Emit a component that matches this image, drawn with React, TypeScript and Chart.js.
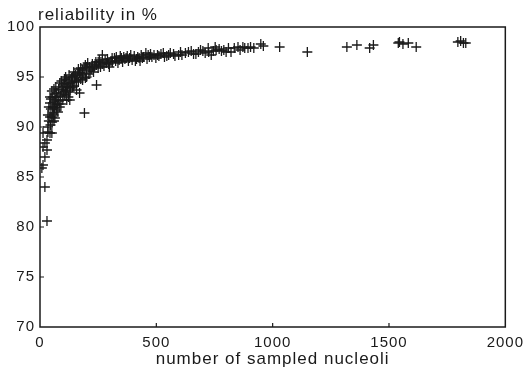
import React, { useEffect, useRef } from "react";
import { Chart, registerables } from "chart.js";

Chart.register(...registerables);

const xTicks = [0, 500, 1000, 1500, 2000];
const yTicks = [70, 75, 80, 85, 90, 95, 100];
const yTitle = "reliability in %";
const xTitle = "number of sampled nucleoli";

// sampled nucleoli counts
const xValues = [
  13, 21, 30, 13, 21, 30, 13, 34, 51, 43, 34, 21, 30, 8,
  34, 43, 51, 64, 55, 60, 72, 43, 55, 85, 47, 60, 68, 77, 43, 55, 64, 72, 51, 38, 47, 81, 90, 98,
  60, 68, 85, 94, 98, 77, 104, 110, 115, 115, 121, 128, 128, 128, 115, 140, 140, 150, 157, 157, 170,
  160, 170, 183, 183, 191, 200, 200, 213, 210, 220, 226, 230, 243, 243, 250, 255, 260, 268, 270, 285,
  290, 298, 305, 311, 320, 328, 340, 350, 360, 370, 380, 396, 405, 415, 426, 435, 445, 455, 470, 481,
  490, 498, 511, 520, 535, 553, 574, 596, 604, 625, 638, 660, 681, 700, 723, 736, 745, 753, 757, 780,
  800, 821, 835, 851, 872, 880, 894, 919, 949, 1030, 1149, 1319, 1362, 1417, 1433, 1540, 1545, 1560,
  1583, 1617, 1796, 1808, 1820, 1830,
  105, 110, 125, 135, 145, 150, 165, 175, 180, 190, 195, 205, 215, 225, 235, 240, 250, 262, 275, 280,
  295, 310, 325, 335, 345, 355, 365, 375, 385, 390, 410, 420, 430, 440, 460, 465, 475, 505, 530, 545,
  560, 580, 610, 650, 670, 690, 710, 725, 770, 790, 810, 860, 905, 960,
  38, 45, 52, 58, 62, 66, 70, 75, 80, 88, 92, 100, 103, 108, 112, 118, 122, 132, 138, 145, 152, 165,
  175, 185, 195
];

// reliability in %
const yValues = [
  86.2, 87.0, 87.7, 88.0, 88.4, 88.7, 89.4, 89.5, 89.4, 89.4, 90.0, 84.0, 80.6, 85.9,
  91.2, 91.0, 91.0, 90.9, 91.4, 90.6, 91.7, 92.4, 92.0, 92.0, 92.8, 92.5, 92.2, 91.5, 93.0, 93.0, 93.3, 93.4, 93.6, 92.0, 91.8, 92.6, 92.3, 92.7,
  93.8, 94.0, 94.4, 93.7, 94.0, 93.0, 93.2, 93.6, 92.7, 93.7, 94.3, 92.7, 93.5, 94.4, 94.7, 94.0, 95.0, 94.6, 94.7, 93.7, 93.4,
  95.3, 95.4, 95.7, 94.7, 91.4, 95.0, 96.0, 96.0, 95.3, 95.8, 96.0, 95.5, 96.2, 94.2, 96.5, 96.7, 96.0, 97.2, 96.3, 96.4,
  96.8, 96.0, 96.6, 96.5, 96.9, 97.0, 96.7, 96.9, 97.0, 96.9, 96.6, 96.7, 97.1, 96.8, 96.9, 97.2, 97.0, 97.4, 97.0, 97.0,
  97.2, 96.9, 97.1, 97.3, 97.0, 97.2, 97.3, 97.2, 97.5, 97.4, 97.5, 97.3, 97.5, 97.6, 97.9, 97.2, 97.6, 98.0, 97.7, 97.6,
  97.5, 97.5, 97.9, 98.0, 98.0, 97.9, 97.9, 97.9, 98.3, 98.0, 97.5, 98.0, 98.2, 97.9, 98.2, 98.4, 98.5, 98.3,
  98.4, 98.0, 98.5, 98.6, 98.4, 98.4,
  94.8, 95.0, 95.2, 94.9, 95.5, 95.1, 95.8, 95.9, 95.2, 95.9, 96.2, 96.4, 95.6, 96.3, 96.1, 96.5, 95.9, 96.5, 96.1, 96.7,
  96.3, 96.9, 96.6, 96.4, 97.1, 96.5, 96.8, 97.1, 96.9, 97.2, 96.6, 97.0, 96.6, 96.9, 96.8, 97.2, 97.3, 97.2, 97.4, 97.1,
  97.4, 97.1, 97.2, 97.6, 97.3, 97.7, 97.4, 97.5, 97.8, 97.7, 97.9, 97.7, 98.0, 98.1,
  90.6, 90.2, 90.5, 91.2, 91.9, 92.7, 93.0, 92.3, 93.8, 93.1, 94.6, 93.5, 94.3, 94.1, 93.3, 94.0, 93.0, 93.9, 94.5, 94.1, 95.2, 94.5,
  94.8, 95.4, 94.9
];

const FONT = "'Liberation Sans', Arial, sans-serif";
const INK = "#1a1a1a";

const framePlugin = {
  id: "frame",
  beforeDraw(chart: any) {
    chart.ctx.letterSpacing = "1px";
  },
  afterDraw(chart: any) {
    const { ctx, chartArea } = chart;
    const { left, right, top, bottom } = chartArea;
    const xs = chart.scales.x;
    const ys = chart.scales.y;
    ctx.save();
    ctx.strokeStyle = INK;
    ctx.lineWidth = 1.5;
    ctx.strokeRect(left, top, right - left, bottom - top);
    ctx.lineWidth = 1.2;
    ctx.beginPath();
    for (const v of yTicks.slice(1, -1)) {
      const py = ys.getPixelForValue(v);
      ctx.moveTo(left, py);
      ctx.lineTo(left + 4, py);
    }
    for (const v of xTicks.slice(1, -1)) {
      const px = xs.getPixelForValue(v);
      ctx.moveTo(px, bottom);
      ctx.lineTo(px, bottom - 4);
    }
    ctx.stroke();
    ctx.fillStyle = INK;
    ctx.letterSpacing = "1px";
    ctx.font = `17px ${FONT}`;
    ctx.textBaseline = "alphabetic";
    ctx.textAlign = "left";
    ctx.fillText(yTitle, left - 2, 20);
    ctx.textAlign = "center";
    ctx.fillText(xTitle, (left + right) / 2, 364);
    ctx.restore();
  },
};

export default function App() {
  const ref = useRef<HTMLCanvasElement>(null);
  useEffect(() => {
    if (!ref.current) return;
    const data = xValues.map((x, i) => ({ x, y: yValues[i] }));
    const chart = new Chart(ref.current, {
      type: "scatter",
      data: {
        datasets: [
          {
            data,
            pointStyle: "cross",
            pointRadius: 5,
            pointBorderWidth: 1.3,
            borderColor: INK,
            backgroundColor: INK,
          },
        ],
      },
      options: {
        animation: false,
        responsive: false,
        devicePixelRatio: 1,
        layout: { padding: { top: 27, right: 19, left: 0, bottom: 0 } },
        plugins: { legend: { display: false }, tooltip: { enabled: false } },
        scales: {
          x: {
            type: "linear",
            min: 0,
            max: 2000,
            afterFit: (s: any) => { s.height = 45; },
            afterBuildTicks: (s: any) => { s.ticks = xTicks.map((v) => ({ value: v })); },
            grid: { display: false, drawTicks: false },
            border: { display: false },
            ticks: {
              color: INK,
              font: { family: FONT, size: 15 },
              padding: 7,
              maxRotation: 0,
              callback: (v: any) => String(v),
            },
          },
          y: {
            type: "linear",
            min: 70,
            max: 100,
            afterFit: (s: any) => { s.width = 40; },
            afterBuildTicks: (s: any) => { s.ticks = yTicks.map((v) => ({ value: v })); },
            grid: { display: false, drawTicks: false },
            border: { display: false },
            ticks: {
              color: INK,
              font: { family: FONT, size: 15 },
              padding: 5,
              callback: (v: any) => String(v),
            },
          },
        },
      },
      plugins: [framePlugin],
    });
    return () => chart.destroy();
  }, []);
  return (
    <div style={{ position: "fixed", left: 0, top: 0, width: 529, height: 372, background: "#fff" }}>
      <canvas ref={ref} width={529} height={372} />
    </div>
  );
}
